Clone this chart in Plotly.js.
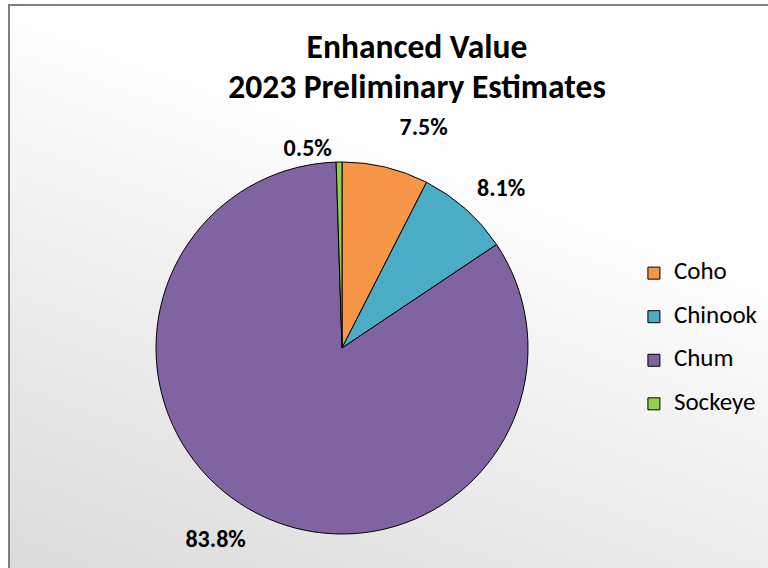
<!DOCTYPE html>
<html><head><meta charset="utf-8">
<script src="https://cdn.plot.ly/plotly-3.0.1.min.js"></script>
<style>
html,body{margin:0;padding:0;width:768px;height:568px;overflow:hidden;background:#fff;}
#frame{position:absolute;left:8px;top:4px;width:790px;height:590px;border-left:2px solid #7f7f7f;border-top:2px solid #7f7f7f;background:linear-gradient(200deg,#ffffff 30%,#d9d9d9 100%);}
#chart{position:absolute;left:0;top:0;width:768px;height:568px;}
</style></head><body>
<div id="frame"></div><div id="chart"></div>
<script>
const categories = ['Coho', 'Chinook', 'Chum', 'Sockeye'];
const shares = [7.5, 8.1, 83.8, 0.5];
const colors = ['#F79646', '#4BACC6', '#8064A2', '#92D050'];
const titleLines = ['Enhanced Value', '2023 Preliminary Estimates'];

const FONT = 'Carlito, Lato, sans-serif';

const legendLabels = categories.map(c => '<span style="font-size:25px">' + c + '</span><br>&nbsp;');

// label text: visible value line, plus a small spacer line that pushes the label outward
const vis = '<span style="font-size:24px">%{value:.1f}%</span>';
const textTemplates = [
  vis + '<br><span style="font-size:8px">&nbsp;</span>',
  vis + '<br><span style="font-size:8px">&nbsp;</span>',
  '<span style="font-size:10px">&nbsp;</span><br>' + vis,
  vis
];
const baseSizes = [24, 16, 22, 24];

const textFont = { family: FONT, size: baseSizes, color: '#000000', weight: 'bold' };

const trace = {
  type: 'pie',
  labels: legendLabels,
  values: shares,
  sort: false,
  direction: 'clockwise',
  rotation: 0,
  marker: { colors: colors, line: { color: '#000000', width: 1 } },
  texttemplate: textTemplates,
  textposition: 'outside',
  textfont: textFont,
  outsidetextfont: textFont,
  hoverinfo: 'none',
  domain: { x: [156 / 768, 528 / 768], y: [1 - 534 / 568, 1 - 162 / 568] },
  showlegend: true
};

const layout = {
  width: 768, height: 568,
  margin: { l: 0, r: 0, t: 0, b: 0 },
  paper_bgcolor: 'rgba(0,0,0,0)',
  plot_bgcolor: 'rgba(0,0,0,0)',
  title: {
    text: titleLines.map(t => '<span style="font-size:33.5px">' + t + '</span>').join('<br>'),
    font: { family: FONT, size: 31.5, color: '#000000', weight: 'bold' },
    x: 417 / 768, xanchor: 'center', xref: 'container',
    y: 1 - 57.5 / 568, yanchor: 'middle', yref: 'container'
  },
  showlegend: true,
  legend: {
    x: 0.8254, xanchor: 'left',
    y: 1 - 349 / 568, yanchor: 'middle',
    font: { family: FONT, size: 15.6, color: '#000000' },
    valign: 'top',
    bgcolor: 'rgba(0,0,0,0)',
    borderwidth: 0
  }
};

Plotly.newPlot('chart', [trace], layout, { displayModeBar: false, staticPlot: true });
</script>
</body></html>
